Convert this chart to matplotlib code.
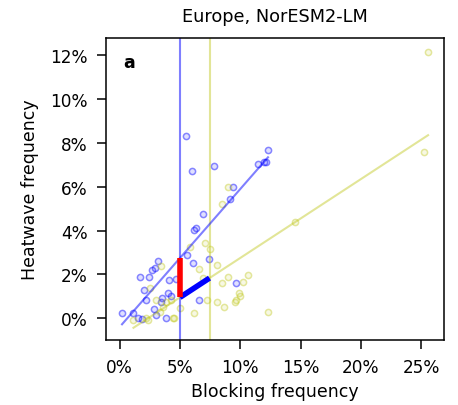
import numpy as np
import matplotlib.pyplot as plt

# blocking frequency (%) and heatwave frequency (%)
blue_x = [0.19, 1.08, 1.54, 1.82, 1.68, 2.03, 2.14, 2.44, 2.68, 2.90, 3.17, 2.85, 2.98,
          3.39, 3.50, 3.85, 3.98, 4.25, 4.07, 5.47, 5.61, 5.96, 6.07, 6.15, 6.88, 6.29,
          7.86, 6.56, 7.43, 9.14, 9.43, 9.65, 11.50, 11.98, 12.14, 12.30, 4.70]
blue_y = [0.23, 0.23, 0.00, -0.05, 1.90, 1.29, 0.84, 1.90, 2.21, 2.28, 2.62, 0.41, 0.15,
          0.72, 0.91, 0.00, 1.14, 1.02, 1.75, 8.30, 2.89, 6.73, 2.54, 4.05, 4.75, 4.10,
          6.93, 0.84, 2.70, 5.45, 5.98, 1.60, 7.03, 7.12, 7.12, 7.69, 1.78]

yellow_x = [25.58, 25.26, 14.50, 12.30, 10.68, 10.22, 9.86, 9.95, 9.67, 9.54, 9.00, 8.46,
            8.05, 8.67, 8.05, 7.53, 7.10, 6.56, 6.88, 6.15, 5.80, 9.00, 8.50, 5.01, 4.39,
            4.50, 3.44, 2.49, 2.22, 2.36, 1.14, 3.04, 3.58, 3.85, 4.25, 7.24, 3.30]
yellow_y = [12.18, 7.61, 4.37, 0.27, 1.95, 1.67, 1.14, 0.99, 0.84, 0.76, 1.90, 1.60,
            0.76, 0.53, 2.44, 3.15, 3.42, 2.24, 1.83, 0.23, 3.27, 6.00, 5.22, 0.46, 0.00,
            0.00, 2.36, 1.37, 0.00, -0.08, -0.10, 0.84, 0.53, 0.76, 0.84, 0.84, 0.30]

# mean blocking and fitted lines (intercept, slope), also
blue_mean = 5.0
yellow_mean = 7.45
blue_fit = (-0.40, 0.63)
yellow_fit = (-0.85, 0.36)

ylw = (0.75, 0.78, 0.1)

fig = plt.figure(figsize=(4.58, 4.06), dpi=100)
ax = fig.add_axes([0.2314, 0.160, 0.738, 0.744])

ax.scatter(blue_x, blue_y, s=20, facecolors=(0, 0, 1, 0.12), edgecolors=(0, 0, 1, 0.45),
           linewidths=1.1)
ax.scatter(yellow_x, yellow_y, s=20, facecolors=ylw + (0.12,), edgecolors=ylw + (0.4,),
           linewidths=1.1)

ax.axvline(blue_mean, color='blue', alpha=0.5, lw=1.5)
ax.axvline(yellow_mean, color=ylw, alpha=0.45, lw=1.5)

# regression lines over each data range
xb = np.array([min(blue_x), max(blue_x)])
ax.plot(xb, blue_fit[0] + blue_fit[1] * xb, color='blue', alpha=0.5, lw=1.5)
xy = np.array([min(yellow_x), max(yellow_x)])
ax.plot(xy, yellow_fit[0] + yellow_fit[1] * xy, color=ylw, alpha=0.45, lw=1.5)

# shift along the yellow fit and the jump between fits
xs = np.array([blue_mean, yellow_mean])
ax.plot(xs, yellow_fit[0] + yellow_fit[1] * xs, color='blue', lw=4, solid_capstyle='butt')
ax.plot([blue_mean, blue_mean],
        [yellow_fit[0] + yellow_fit[1] * blue_mean, blue_fit[0] + blue_fit[1] * blue_mean],
        color='red', lw=4, solid_capstyle='butt')

ax.set_xlim(-1.14, 26.9)
ax.set_ylim(-1.0, 12.8)
ax.set_xticks([0, 5, 10, 15, 20, 25])
ax.set_xticklabels(['0%', '5%', '10%', '15%', '20%', '25%'])
ax.set_yticks([0, 2, 4, 6, 8, 10, 12])
ax.set_yticklabels(['0%', '2%', '4%', '6%', '8%', '10%', '12%'])
ax.tick_params(labelsize=12.2, length=6.5, width=1.1, pad=6.5)
for s in ax.spines.values():
    s.set_linewidth(1.1)

ax.set_xlabel('Blocking frequency', fontsize=12.5, labelpad=4)
ax.set_ylabel('Heatwave frequency', fontsize=12.5, labelpad=8)
ax.set_title('Europe, NorESM2-LM', fontsize=12.8, pad=12)
ax.text(0.05, 0.95, 'a', transform=ax.transAxes, fontsize=12.5, fontweight='bold',
        va='top', ha='left')

fig.savefig('out.png', dpi=100)
